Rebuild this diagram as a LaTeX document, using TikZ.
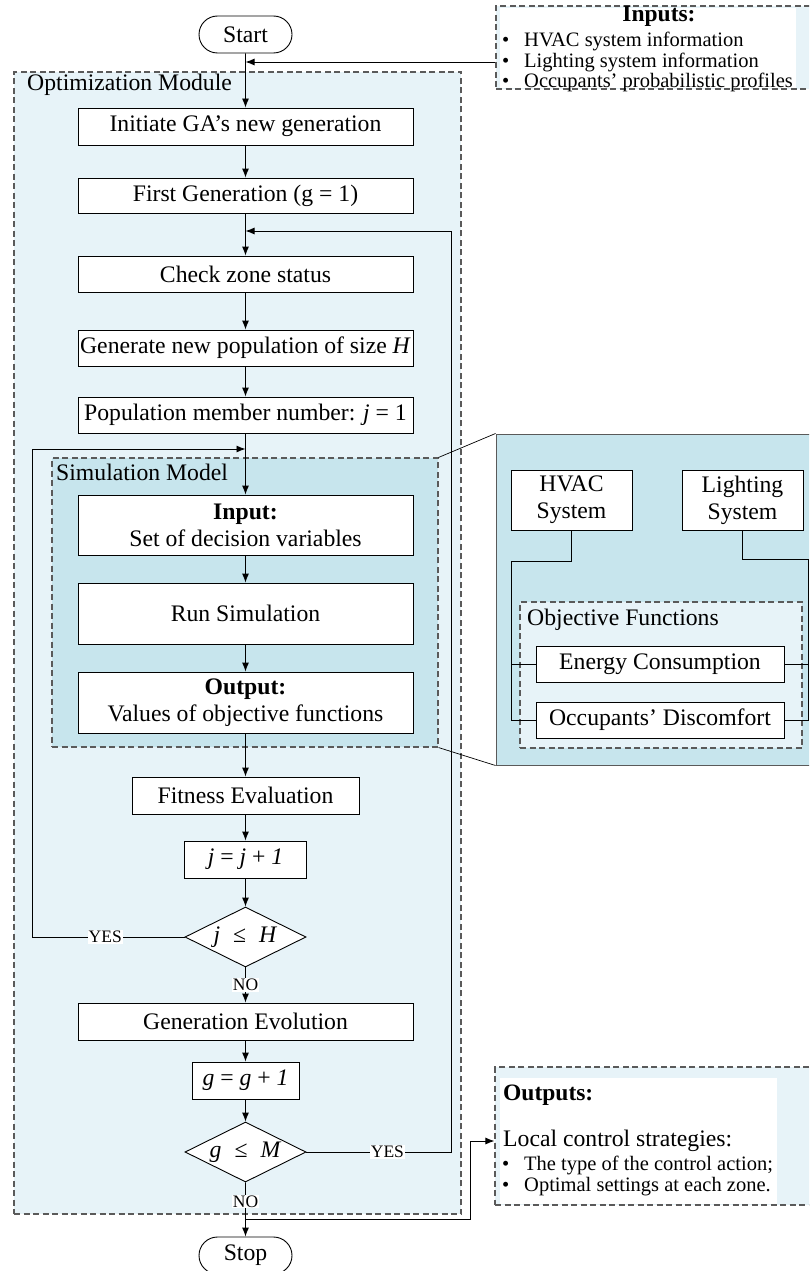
\documentclass[tikz,border=0pt]{standalone}
\usepackage{fontspec}
\setmainfont{Liberation Serif}
\usetikzlibrary{arrows.meta,shapes.geometric,shapes.misc}
\definecolor{modfill}{HTML}{E7F3F8}
\definecolor{simfill}{HTML}{C7E5ED}
\definecolor{dashgray}{HTML}{5A5A5A}
\newcommand\bulitem{\makebox[22pt][l]{•}}
\tikzset{
  mainfont/.style={font=\fontsize{23.7}{27}\selectfont},
  box/.style={draw, fill=white, line width=0.9pt, inner sep=0pt, align=center, mainfont},
  terminal/.style={rounded rectangle, draw, fill=white, line width=0.9pt, inner sep=0pt,
    minimum width=93pt, minimum height=37pt, mainfont},
  decision/.style={diamond, aspect=2, draw, fill=white, line width=0.9pt, inner sep=0pt,
    minimum width=121pt, minimum height=60pt, mainfont},
  region/.style={draw=dashgray, dash pattern=on 6pt off 3.5pt, line width=1.1pt, inner sep=0pt},
  plain/.style={inner sep=0pt, mainfont},
  small/.style={inner sep=0pt, font=\fontsize{20.5}{24}\selectfont},
  arr/.style={-{Latex[length=9pt,width=7pt]}, line width=0.9pt},
  link/.style={line width=0.9pt},
  lbl/.style={fill=white, inner sep=1pt, font=\fontsize{17.5}{20}\selectfont},
}
\begin{document}
\begin{tikzpicture}[x=1pt,y=-1pt]
\useasboundingbox (0,0) rectangle (809,1271);
\clip (0,0) rectangle (809,1271);

% ---- module backgrounds ----
\node[region, fill=modfill, minimum width=447pt, minimum height=1142pt] (optmod) at (237.5,643) {};
\node[plain, anchor=west] (optlbl) at (27,85) {Optimization Module};
\node[region, fill=simfill, minimum width=386pt, minimum height=289pt] (simmod) at (245,602.5) {};
\node[plain, anchor=west] (simlbl) at (56,472) {Simulation Model};

% ---- zoomed detail of the simulation model ----
\node[draw=dashgray, line width=1pt, fill=simfill, inner sep=0pt,
      minimum width=340pt, minimum height=331pt] (panel) at (666,599.5) {};
\draw[line width=0.7pt] (simmod.north east) -- (panel.north west);
\draw[line width=0.7pt] (simmod.south east) -- (panel.south west);
\node[box, minimum width=121pt, minimum height=60pt] (hvac) at (571.5,500) {HVAC\\System};
\node[box, minimum width=121pt, minimum height=60pt] (light) at (742.5,500) {Lighting\\System};
\node[region, fill=modfill, minimum width=282pt, minimum height=146pt] (objfun) at (661,675) {};
\node[plain, anchor=west] (objlbl) at (527,620) {Objective Functions};
\node[box, minimum width=248pt, minimum height=36pt] (energy) at (660,664) {Energy Consumption};
\node[box, minimum width=248pt, minimum height=36pt] (discomf) at (660,720) {Occupants’ Discomfort};
\coordinate (hvacL) at (511,561);
\coordinate (lightR) at (808,559);
\draw[link] (hvac.south) |- (hvacL) |- (discomf.west);
\draw[link] (hvacL |- energy.west) -- (energy.west);
\draw[link] (light.south) |- (lightR) |- (discomf.east);
\draw[link] (lightR |- energy.east) -- (energy.east);

% ---- inputs ----
\node[region, fill=modfill, minimum width=334pt, minimum height=83pt] (inbox) at (663,47.5) {};
\fill[white] (500,8) rectangle (796,88.4);
\node[inner sep=0pt, font=\bfseries\fontsize{23.5}{27}\selectfont] (intitle) at (659,16) {Inputs:};
\node[small, anchor=west] (in1) at (502,41) {\bulitem HVAC system information};
\node[small, anchor=west] (in2) at (502,62) {\bulitem Lighting system information};
\node[small, anchor=west] (in3) at (502,82) {\bulitem Occupants’ probabilistic profiles};

% ---- outputs ----
\node[region, fill=modfill, minimum width=335pt, minimum height=138pt] (outbox) at (662.5,1136) {};
\fill[white] (500,1078) rectangle (777,1204.4);
\node[inner sep=0pt, anchor=west, font=\bfseries\fontsize{23.5}{27}\selectfont] (outtitle) at (503,1095) {Outputs:};
\node[plain, anchor=west] (lcs) at (503,1141) {Local control strategies:};
\node[small, anchor=west] (out1) at (502,1165) {\bulitem The type of the control action;};
\node[small, anchor=west] (out2) at (502,1187) {\bulitem Optimal settings at each zone.};

% ---- flowchart ----
\node[terminal] (start) at (245.5,34.5) {Start};
\node[box, minimum width=335pt, minimum height=37pt] (init) at (245.5,126.5) {Initiate GA’s new generation};
\node[box, minimum width=335pt, minimum height=35pt] (first) at (245.5,195.5) {First Generation (g = 1)};
\node[box, minimum width=335pt, minimum height=36pt] (check) at (245.5,274) {Check zone status};
\node[box, minimum width=335pt, minimum height=36pt] (genpop) at (245.5,348) {Generate new population of size \textit{H}};
\node[box, minimum width=335pt, minimum height=36pt] (member) at (245.5,415) {Population member number: \textit{j} = 1};
\node[box, minimum width=335pt, minimum height=60pt] (input) at (245.5,525) {\textbf{Input:}\\Set of decision variables};
\node[box, minimum width=335pt, minimum height=61pt] (run) at (245.5,613.5) {Run Simulation};
\node[box, minimum width=335pt, minimum height=61pt] (output) at (245.5,702.5) {\textbf{Output:}\\Values of objective functions};
\node[box, minimum width=227pt, minimum height=37pt] (fitness) at (245.5,795.5) {Fitness Evaluation};
\node[box, minimum width=122pt, minimum height=37pt] (jinc) at (245.5,859.5) {\textit{j} = \textit{j} + \textit{1}};
\node[decision] (jtest) at (245.5,937) {\textit{j}\hspace{0.55em}≤\hspace{0.55em}\textit{H}};
\node[box, minimum width=335pt, minimum height=37pt] (evol) at (245.5,1021.5) {Generation Evolution};
\node[box, minimum width=107pt, minimum height=37pt] (ginc) at (245.5,1080.5) {\textit{g} = \textit{g} + \textit{1}};
\node[decision] (gtest) at (245.5,1152) {\textit{g}\hspace{0.55em}≤\hspace{0.55em}\textit{M}};
\node[terminal] (stop) at (245.5,1255.5) {Stop};

% ---- connectors ----
\coordinate (inlvl) at (0,62);
\coordinate (genloop) at (451,231);
\coordinate (memloop) at (32,449);
\coordinate (outjoin) at (470,1219);

\draw[arr] (start) -- (init);
\draw[arr] (inbox.west |- inlvl) -- (start.south |- inlvl);
\draw[arr] (init) -- (first);
\draw[arr] (first) -- (check);
\draw[arr] (check) -- (genpop);
\draw[arr] (genpop) -- (member);
\draw[arr] (member) -- (input);
\draw[arr] (input) -- (run);
\draw[arr] (run) -- (output);
\draw[arr] (output) -- (fitness);
\draw[arr] (fitness) -- (jinc);
\draw[arr] (jinc) -- (jtest);
\draw[arr] (jtest) -- node[lbl, pos=0.5] {NO} (evol);
\draw[arr] (evol) -- (ginc);
\draw[arr] (ginc) -- (gtest);
\draw[arr] (gtest) -- node[lbl, pos=0.35] {NO} (stop);

\draw[arr] (jtest.west) -- node[lbl, pos=0.52] {YES} (jtest.west -| memloop)
  -- (memloop) -- (member.south |- memloop);
\draw[arr] (gtest.east) -- node[lbl, pos=0.56] {YES} (gtest.east -| genloop)
  -- (genloop) -- (first.south |- genloop);
\draw[arr] (gtest.south |- outjoin) -- (outjoin) |- (outbox.west |- lcs);
\end{tikzpicture}
\end{document}
